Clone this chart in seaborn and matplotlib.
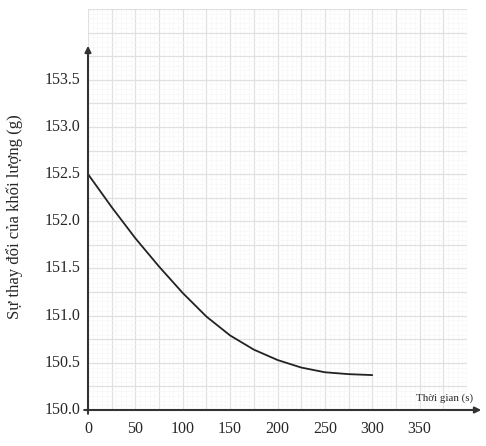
import seaborn as sns
import pandas as pd
import matplotlib.pyplot as plt
import numpy as np
from matplotlib.ticker import MultipleLocator

# doc tu hinh
thoi_gian = [0, 25, 50, 75, 100, 125, 150, 175, 200, 225, 250, 275, 300]
khoi_luong = [152.50, 152.15, 151.82, 151.52, 151.24, 150.99, 150.79, 150.64,
              150.53, 150.45, 150.40, 150.38, 150.37]

x_ticks = [0, 50, 100, 150, 200, 250, 300, 350]
y_ticks = [150.0, 150.5, 151.0, 151.5, 152.0, 152.5, 153.0, 153.5]

df = pd.DataFrame({"t": thoi_gian, "m": khoi_luong})

sns.set_style("white")
plt.rcParams['font.family'] = ['Liberation Serif', 'DejaVu Serif']

fig = plt.figure(figsize=(4.86, 4.46), dpi=100)
W, H = 486, 446
ax = fig.add_axes([88 / W, (H - 410) / H, (467 - 88) / W, (410 - 9) / H])

# luoi
ax.set_xlim(0, 400)
ax.set_ylim(150, 154.25)
ax.xaxis.set_major_locator(MultipleLocator(25))
ax.yaxis.set_major_locator(MultipleLocator(0.25))
ax.xaxis.set_minor_locator(MultipleLocator(5))
ax.yaxis.set_minor_locator(MultipleLocator(0.05))
ax.grid(which="major", color="#e0e0e0", linewidth=0.9)
ax.grid(which="minor", color="#f6f6f6", linewidth=0.4)
ax.set_axisbelow(True)
for s in ax.spines.values():
    s.set_visible(False)
ax.tick_params(which="both", length=0, labelbottom=False, labelleft=False)

sns.lineplot(data=df, x="t", y="m", ax=ax, color="#222222", linewidth=1.3)
ax.set_xlabel("")
ax.set_ylabel("")

# truc co mui ten
ax.annotate("", xy=(415, 150), xytext=(-3, 150), xycoords="data",
            arrowprops=dict(arrowstyle="-|>", color="#333333", lw=1.5,
                            mutation_scale=9, shrinkA=0, shrinkB=0),
            annotation_clip=False)
ax.annotate("", xy=(0, 153.86), xytext=(0, 149.97), xycoords="data",
            arrowprops=dict(arrowstyle="-|>", color="#333333", lw=1.5,
                            mutation_scale=9, shrinkA=0, shrinkB=0),
            annotation_clip=False)
ax.plot([-4, 0], [150, 150], color="#333333", lw=1.3, clip_on=False)
ax.plot([0, 0], [150, 149.96], color="#333333", lw=1.3, clip_on=False)

for t in x_ticks:
    ax.text(t, 149.88, str(t), ha="center", va="top", fontsize=11.5)
for v in y_ticks:
    ax.text(-8, v, f"{v:.1f}", ha="right", va="center", fontsize=11.5)

ax.text(406, 150.07, "Thời gian (s)", ha="right", va="bottom", fontsize=7.8)
fig.text(15 / W, 1 - 217 / H, "Sự thay đổi của khối lượng (g)", rotation=90,
         ha="center", va="center", fontsize=12)

fig.savefig("out.png", dpi=100)
